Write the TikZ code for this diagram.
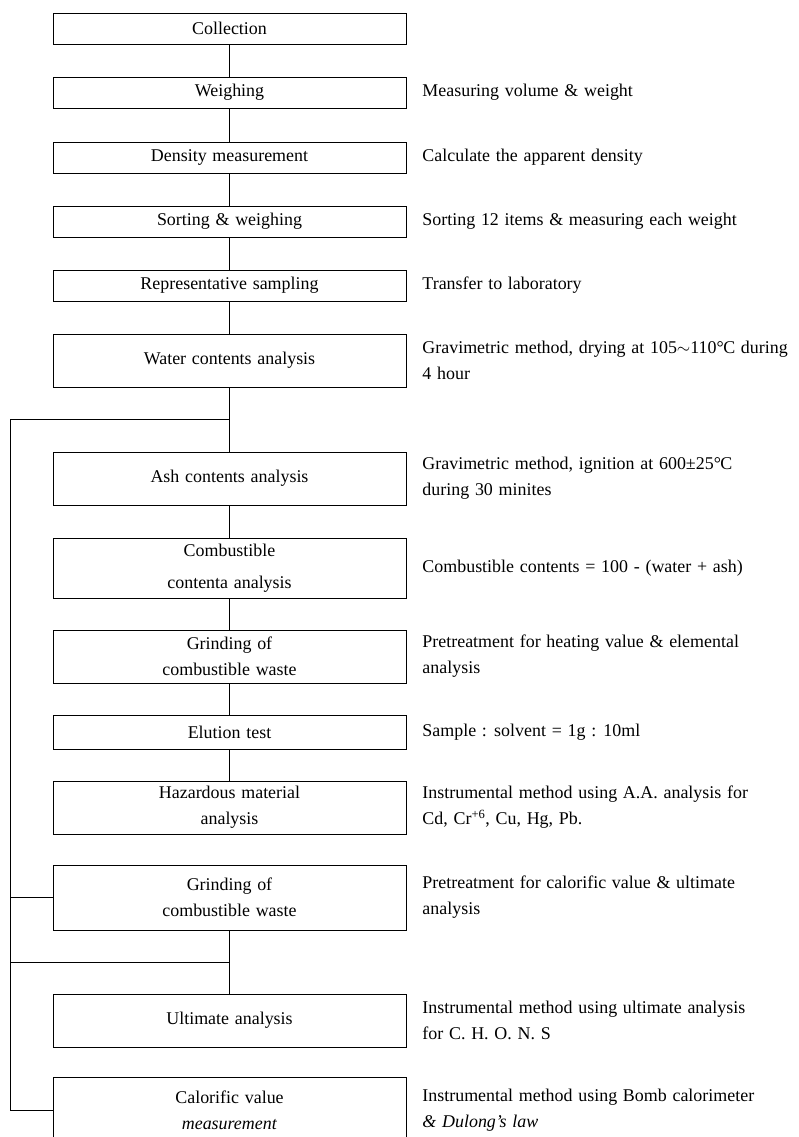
\documentclass[tikz,border=0pt]{standalone}
\usepackage{fontspec}
\setmainfont{Liberation Serif}
\usepackage{tikz}
\usetikzlibrary{positioning,calc}
\newcommand{\degC}{\textdegree\kern-0.5pt C}
\newcommand{\chartfont}{\fontsize{18}{26}\selectfont
  \spaceskip=0.32em plus 0.1em minus 0.05em\relax}

\begin{document}
\begin{tikzpicture}[
      x=1bp, y=-1bp,
      font=\chartfont,
      line width=0.9bp,
      box/.style={draw, align=center, minimum width=353bp,
                  minimum height=31bp, inner sep=2pt, outer sep=0pt},
      tall/.style={box, minimum height=53bp},
      note/.style={align=left, anchor=west, inner sep=0pt},
      link/.style={line width=0.8bp}
    ]
    \useasboundingbox (0,0) rectangle (799,1137);

    % main chain
    \node[box, anchor=north] (coll) at (229.5,13) {Collection};
    \node[box, below=33bp of coll] (weigh) {Weighing};
    \node[box, below=34bp of weigh] (dens) {Density measurement};
    \node[box, below=33bp of dens] (sort) {Sorting \& weighing};
    \node[box, below=33bp of sort] (samp) {Representative sampling};
    \node[tall, below=33bp of samp] (water) {Water contents analysis};

    % analyses
    \node[tall, below=65bp of water] (ash) {Ash contents analysis};
    \node[tall, below=33bp of ash, minimum height=60bp] (comb)
      {Combustible\\[6bp] contenta analysis};
    \node[tall, below=32bp of comb] (grind)
      {Grinding of\\ combustible waste};
    \node[box, below=32bp of grind, minimum height=34bp] (elut) {Elution test};
    \node[tall, below=32bp of elut] (haz)
      {Hazardous material\\ analysis};
    \node[tall, below=31bp of haz, minimum height=65bp] (grindb)
      {Grinding of\\ combustible waste};
    \node[tall, below=64bp of grindb] (ult) {Ultimate analysis};
    \node[tall, below=30bp of ult, minimum height=66bp] (cal)
      {Calorific value\\ \textit{measurement}};

    % vertical links
    \foreach \a/\b in {coll/weigh, weigh/dens, dens/sort, sort/samp,
                       samp/water, water/ash, ash/comb, comb/grind,
                       grind/elut, elut/haz, grindb/ult}
      \draw[link] (\a.south) -- (\b.north);

    % side rail
    \coordinate (rail) at (10,0);
    \coordinate (ja) at ($(water.south)!0.5!(ash.north)$);
    \coordinate (jb) at ($(grindb.south)!0.5!(ult.north)$);
    \draw[link] (ja) -| (cal.west -| rail) -- (cal.west);
    \draw[link] (grindb.west) -- (grindb.west -| rail);
    \draw[link] (jb) -- (jb -| rail);

    % notes
    \node[note, right=16bp of weigh] (weighN) {Measuring volume \& weight};
    \node[note, right=16bp of dens] (densN) {Calculate the apparent density};
    \node[note, right=16bp of sort] (sortN)
      {Sorting 12 items \& measuring each weight};
    \node[note, right=16bp of samp] (sampN) {Transfer to laboratory};
    \node[note, right=16bp of water] (waterN)
      {Gravimetric method, drying at 105$\sim$110\degC{} during\\4 hour};
    \node[note, right=16bp of ash] (ashN)
      {Gravimetric method, ignition at 600±25\degC\\during 30 minites};
    \node[note, right=16bp of comb] (combN)
      {Combustible contents = 100 - (water + ash)};
    \node[note, right=16bp of grind] (grindN)
      {Pretreatment for heating value \& elemental\\analysis};
    \node[note, right=16bp of elut] (elutN) {Sample : solvent = 1g : 10ml};
    \node[note, right=16bp of haz] (hazN)
      {Instrumental method using A.A. analysis for\\
       Cd, Cr\textsuperscript{+6}, Cu, Hg, Pb.};
    \node[note, right=16bp of grindb] (grindbN)
      {Pretreatment for calorific value \& ultimate\\analysis};
    \node[note, right=16bp of ult] (ultN)
      {Instrumental method using ultimate analysis\\for C. H. O. N. S};
    \node[note, right=16bp of cal] (calN)
      {Instrumental method using Bomb calorimeter\\\textit{\& Dulong's law}};
  \end{tikzpicture}
\end{document}
